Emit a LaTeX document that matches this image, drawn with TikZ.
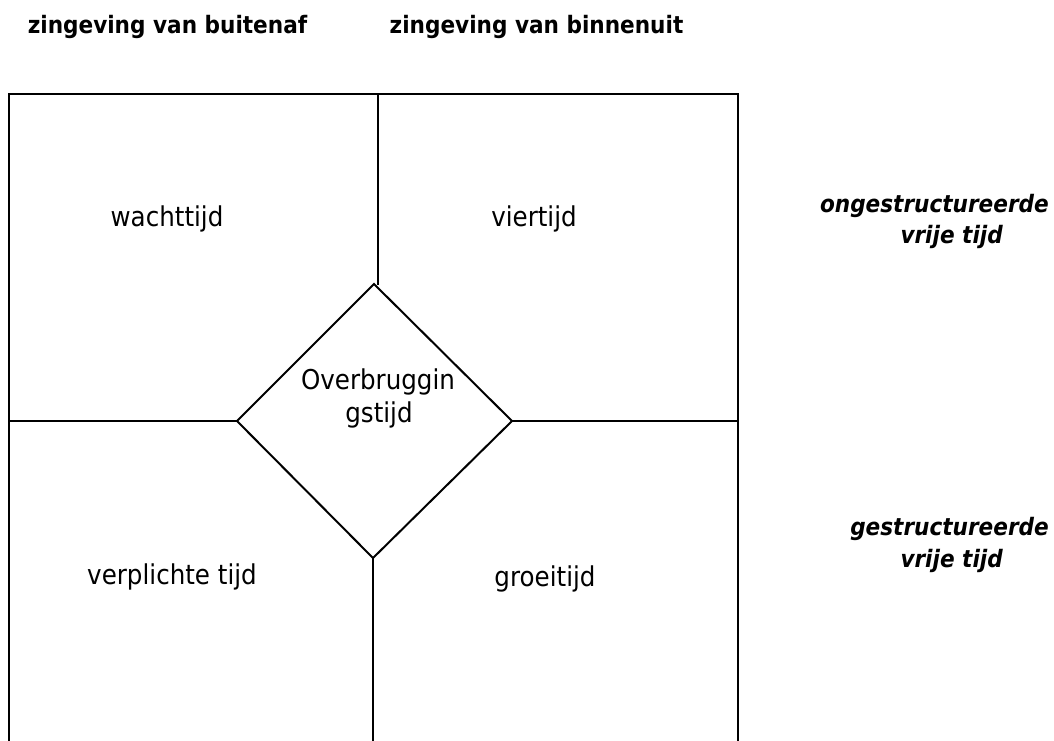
\documentclass[tikz,border=0pt]{standalone}
\usepackage{fontspec}
\setmainfont{DejaVu Sans}[FakeStretch=0.9]
\begin{document}
\begin{tikzpicture}[x=1pt,y=-1pt,
  frame/.style={line width=2pt,line cap=rect,line join=miter},
  head/.style={anchor=base,inner sep=0pt,font=\fontsize{24}{29}\selectfont\bfseries},
  side/.style={inner sep=0pt,font=\fontsize{24}{29}\selectfont\bfseries\itshape},
  quad/.style={anchor=base,inner sep=0pt,font=\fontsize{27.3}{33}\selectfont}]
\useasboundingbox (0,0) rectangle (1054,740);
% frame corners and junctions
\coordinate (tl) at (9,94);
\coordinate (tr) at (738,94);
\coordinate (bl) at (9,742);
\coordinate (br) at (738,742);
\coordinate (tm) at (378,94);
\coordinate (bm) at (373,742);
\coordinate (ml) at (9,421);
\coordinate (mr) at (738,421);
% diamond vertices
\coordinate (dt) at (374,284);
\coordinate (db) at (373,558);
\coordinate (dl) at (237,421);
\coordinate (dr) at (512,421);
\draw[frame] (bl) -- (tl) -- (tr) -- (br);
\draw[frame] (tm) -- (378,284);
\draw[frame] (db) -- (bm);
\draw[frame] (ml) -- (dl);
\draw[frame] (dr) -- (mr);
\draw[frame] (dt) -- (dr) -- (db) -- (dl) -- cycle;
% headings
\node[head] (h1) at (167.5,33) {zingeving van buitenaf};
\node[head] (h2) at (536.5,33) {zingeving van binnenuit};
% quadrant labels
\node[quad] (q1) at (167,226) {wachttijd};
\node[quad] (q2) at (534,226) {viertijd};
\node[quad] (q3) at (172,584) {verplichte tijd};
\node[quad] (q4) at (545,586) {groeitijd};
\node[quad] (c1) at (378,389) {Overbruggin};
\node[quad] (c2) at (379,422) {gstijd};
% side labels
\node[side,anchor=base east] (s1) at (1049,212) {ongestructureerde};
\node[side,anchor=base east] (s2) at (1003,243) {vrije tijd};
\node[side,anchor=base east] (s3) at (1049,535) {gestructureerde};
\node[side,anchor=base east] (s4) at (1003,567) {vrije tijd};
\end{tikzpicture}
\end{document}
